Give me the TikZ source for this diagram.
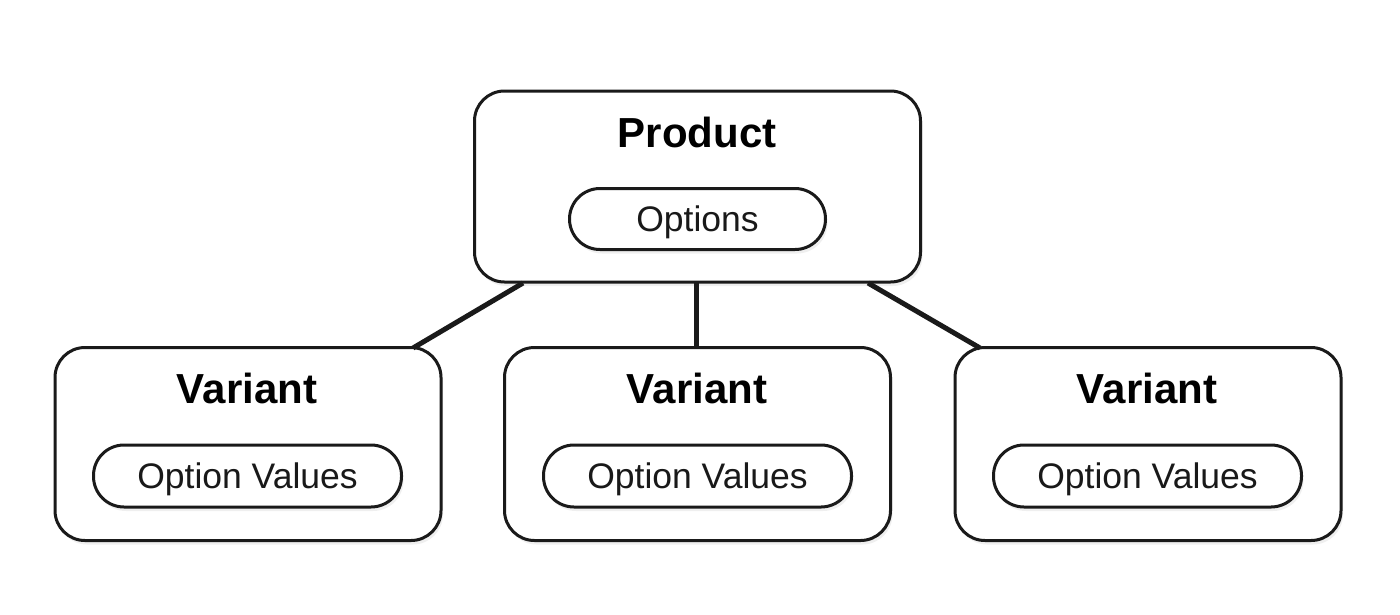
\documentclass[tikz,border=0pt]{standalone}
\usepackage{fontspec}
\setmainfont{Liberation Sans}
\usetikzlibrary{shadows}
\definecolor{ink}{HTML}{1A1A1A}
\begin{document}
\begin{tikzpicture}[x=1pt,y=-1pt,
  boxshape/.style={draw=ink, line width=3pt, rounded corners=30pt, fill=white,
    minimum width=386pt, minimum height=193pt, inner sep=0pt,
    drop shadow={opacity=0.12, shadow xshift=2pt, shadow yshift=-4pt}},
  pillshape/.style={draw=ink, line width=3pt, rounded corners=30.5pt, fill=white,
    minimum width=308pt, minimum height=62pt, inner sep=0pt,
    text height=25.4pt, text depth=0pt, text=black!90,
    font=\fontsize{35.5}{40}\selectfont,
    drop shadow={opacity=0.12, shadow xshift=2pt, shadow yshift=-4pt}},
  title/.style={inner sep=0pt, text height=30pt, text depth=0pt,
    font=\fontsize{42}{48}\selectfont\bfseries},
  link/.style={draw=ink, line width=5pt}]
\useasboundingbox[fill=white] (0,0) rectangle (1400,614);
% product
\node[boxshape, minimum width=446pt, minimum height=191pt] (prod) at (697.5,186.5) {};
\node[title] (prodT) at (697,132) {Product};
\node[pillshape, minimum width=256pt, minimum height=61pt] (opts) at (697.5,219) {Options};
% variants
\node[boxshape] (v1) at (248,444) {};
\node[boxshape] (v2) at (697.5,444) {};
\node[boxshape] (v3) at (1148,444) {};
\node[title] (v1T) at (247,388) {Variant};
\node[title] (v2T) at (697,388) {Variant};
\node[title] (v3T) at (1147,388) {Variant};
\node[pillshape] (ov1) at (247.5,476) {Option Values};
\node[pillshape] (ov2) at (697.5,476) {Option Values};
\node[pillshape] (ov3) at (1147.5,476) {Option Values};
% connector end points on box borders
\coordinate (pL) at (523,283);
\coordinate (pM) at (696,283);
\coordinate (pR) at (868,283);
\coordinate (v1top) at (413,348);
\coordinate (v2top) at (696,348);
\coordinate (v3top) at (980,348);
\draw[link] (pL) -- (v1top);
\draw[link] (pM) -- (v2top);
\draw[link] (pR) -- (v3top);
\end{tikzpicture}
\end{document}
